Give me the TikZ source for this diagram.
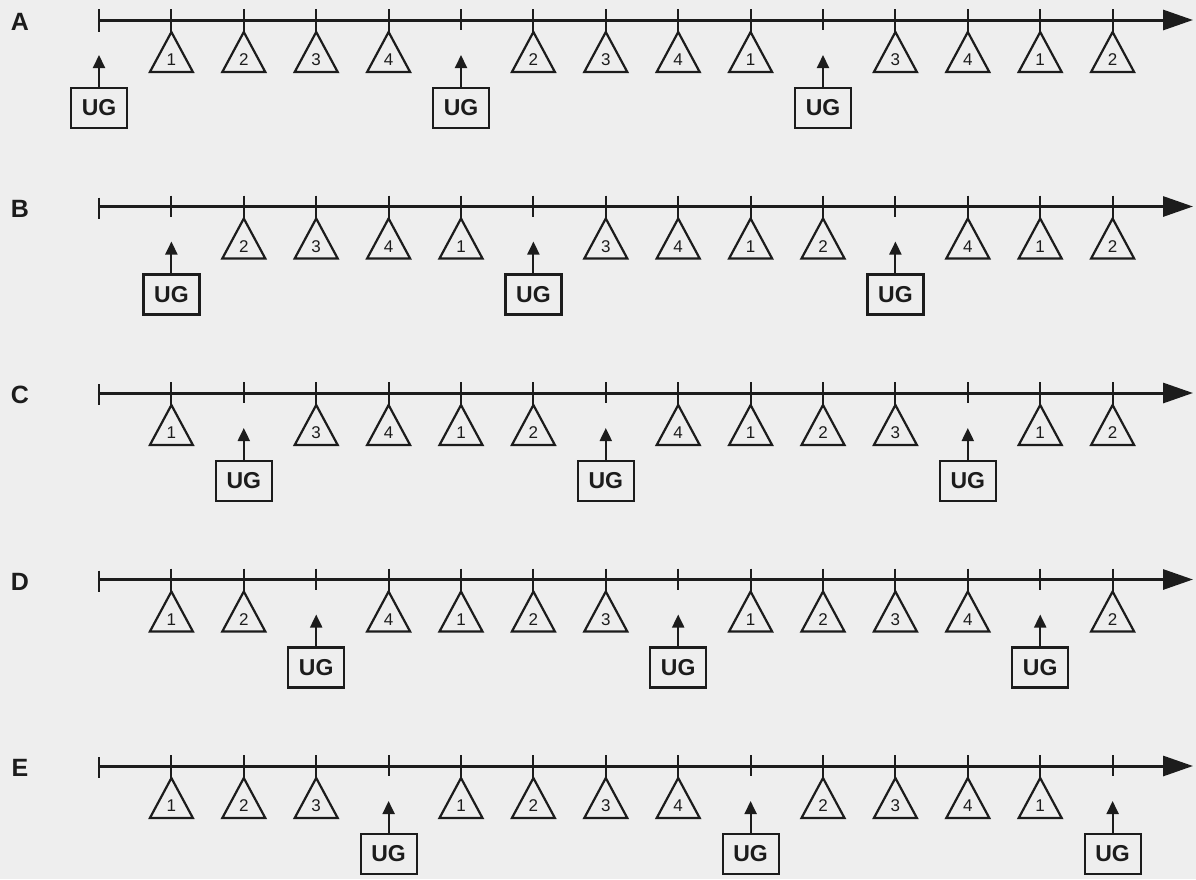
\documentclass[tikz,border=0pt]{standalone}
\usepackage{fontspec}
\setmainfont{Liberation Sans}
\usetikzlibrary{arrows.meta}
\definecolor{bg}{HTML}{EEEEEE}
\definecolor{ink}{HTML}{1C1C1C}
\tikzset{
  axisline/.style={draw=ink,line width=3pt,-{Triangle[length=30pt,width=20pt]}},
  tickline/.style={draw=ink,line width=2pt},
  tri/.style={draw=ink,line width=2.2pt,line join=miter},
  trinum/.style={text=ink,font=\fontsize{17}{17}\selectfont,inner sep=0pt},
  ugbox/.style={draw=ink,line width=2.2pt,minimum width=56pt,minimum height=40pt,inner sep=0pt,text=ink,font=\bfseries\fontsize{23}{23}\selectfont},
  ugarrow/.style={draw=ink,line width=2pt,-{Triangle[length=13pt,width=12pt]}},
  rowlabel/.style={text=ink,font=\bfseries\fontsize{25}{25}\selectfont,inner sep=0pt}
}
\newcommand{\ugmark}[3]{%
  \draw[tickline] (#2,#3-11) -- (#2,#3+10);
  \node[ugbox] (#1) at (#2,#3+88) {UG};
  \coordinate (#1t) at (#2,#3+35);
  \draw[ugarrow] (#1.north) -- (#1t);
}
\newcommand{\trimark}[4]{%
  \draw[tickline] (#2,#3-11) -- (#2,#3+12);
  \draw[tri] (#2,#3+12) -- (#2+21.5,#3+52) -- (#2-21.5,#3+52) -- cycle;
  \node[trinum] (#1) at (#2,#3+40) {#4};
}
\begin{document}
\begin{tikzpicture}[x=1pt,y=-1pt]
\fill[bg] (0,0) rectangle (1196,879);
\useasboundingbox (0,0) rectangle (1196,879);
\foreach \lab/\yy/\seq in {
  A/20/{U,1,2,3,4,U,2,3,4,1,U,3,4,1,2},
  B/206.5/{-,U,2,3,4,1,U,3,4,1,2,U,4,1,2},
  C/393/{-,1,U,3,4,1,2,U,4,1,2,3,U,1,2},
  D/579.5/{-,1,2,U,4,1,2,3,U,1,2,3,4,U,2},
  E/766/{-,1,2,3,U,1,2,3,4,U,2,3,4,1,U}}{
  \node[rowlabel] (\lab) at (20,\yy+2) {\lab};
  \coordinate (\lab s) at (99,\yy);
  \coordinate (\lab e) at (1193,\yy);
  \draw[axisline] (\lab s) -- (\lab e);
  \draw[tickline] (99,\yy-9) -- (99,\yy+12);
  \foreach \v [count=\i from 0] in \seq {
    \pgfmathsetmacro\xx{99+72.4*\i}
    \if U\v
      \ugmark{\lab\i}{\xx}{\yy}
    \else\if -\v\else
      \trimark{\lab\i}{\xx}{\yy}{\v}
    \fi\fi
  }
}
\end{tikzpicture}
\end{document}
